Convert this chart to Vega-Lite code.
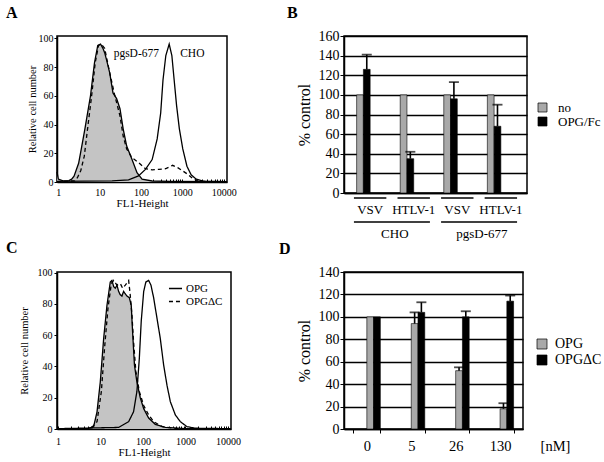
{
  "$schema": "https://vega.github.io/schema/vega-lite/v6.json",
  "background": "white",
  "padding": {"left": 5, "top": 4, "right": 0, "bottom": 0},
  "columns": 2,
  "bounds": "flush",
  "align": "each",
  "spacing": {"row": 79, "column": 113},
  "resolve": {"scale": {"color": "independent", "strokeDash": "independent"}, "legend": {"color": "independent", "strokeDash": "independent"}},
  "datasets": {
    "histA": [
      {"curve": "ctrl", "x": 0.93, "y": 7}, {"curve": "ctrl", "x": 1.0, "y": 2}, {"curve": "ctrl", "x": 1.3, "y": 0.8}, {"curve": "ctrl", "x": 1.8, "y": 1}, {"curve": "ctrl", "x": 2.1, "y": 2}, {"curve": "ctrl", "x": 2.4, "y": 4}, {"curve": "ctrl", "x": 3.1, "y": 13}, {"curve": "ctrl", "x": 3.7, "y": 25}, {"curve": "ctrl", "x": 4.4, "y": 37}, {"curve": "ctrl", "x": 6.0, "y": 60}, {"curve": "ctrl", "x": 7.5, "y": 83}, {"curve": "ctrl", "x": 9.0, "y": 95}, {"curve": "ctrl", "x": 10.5, "y": 96}, {"curve": "ctrl", "x": 12, "y": 93}, {"curve": "ctrl", "x": 13.2, "y": 90}, {"curve": "ctrl", "x": 15, "y": 84}, {"curve": "ctrl", "x": 17.5, "y": 76}, {"curve": "ctrl", "x": 21, "y": 62}, {"curve": "ctrl", "x": 25.7, "y": 58}, {"curve": "ctrl", "x": 31, "y": 51}, {"curve": "ctrl", "x": 37, "y": 37}, {"curve": "ctrl", "x": 45, "y": 25}, {"curve": "ctrl", "x": 60, "y": 16}, {"curve": "ctrl", "x": 80, "y": 6.5}, {"curve": "ctrl", "x": 106, "y": 2}, {"curve": "ctrl", "x": 186, "y": 0.7}, {"curve": "ctrl", "x": 500, "y": 0.4}, {"curve": "ctrl", "x": 12000, "y": 0.3},
      {"curve": "pgsD", "x": 0.93, "y": 0.3}, {"curve": "pgsD", "x": 2.5, "y": 0.8}, {"curve": "pgsD", "x": 2.9, "y": 3}, {"curve": "pgsD", "x": 3.5, "y": 8}, {"curve": "pgsD", "x": 4.25, "y": 18}, {"curve": "pgsD", "x": 5.1, "y": 37}, {"curve": "pgsD", "x": 6.4, "y": 60}, {"curve": "pgsD", "x": 7.8, "y": 83}, {"curve": "pgsD", "x": 9.4, "y": 95}, {"curve": "pgsD", "x": 11, "y": 96}, {"curve": "pgsD", "x": 13.2, "y": 93}, {"curve": "pgsD", "x": 17.5, "y": 76}, {"curve": "pgsD", "x": 23.3, "y": 60}, {"curve": "pgsD", "x": 31, "y": 46}, {"curve": "pgsD", "x": 37, "y": 32}, {"curve": "pgsD", "x": 45, "y": 23}, {"curve": "pgsD", "x": 60, "y": 17}, {"curve": "pgsD", "x": 87, "y": 13.5}, {"curve": "pgsD", "x": 128, "y": 9.3}, {"curve": "pgsD", "x": 186, "y": 8.4}, {"curve": "pgsD", "x": 272, "y": 8.8}, {"curve": "pgsD", "x": 398, "y": 9.3}, {"curve": "pgsD", "x": 580, "y": 11.6}, {"curve": "pgsD", "x": 771, "y": 10}, {"curve": "pgsD", "x": 1023, "y": 7.7}, {"curve": "pgsD", "x": 1360, "y": 5.3}, {"curve": "pgsD", "x": 1800, "y": 2.3}, {"curve": "pgsD", "x": 2400, "y": 0.7}, {"curve": "pgsD", "x": 4000, "y": 0.3},
      {"curve": "CHO", "x": 0.93, "y": 0.5}, {"curve": "CHO", "x": 20, "y": 0.8}, {"curve": "CHO", "x": 50, "y": 1.5}, {"curve": "CHO", "x": 87, "y": 4.2}, {"curve": "CHO", "x": 128, "y": 8.8}, {"curve": "CHO", "x": 186, "y": 15.6}, {"curve": "CHO", "x": 246, "y": 30}, {"curve": "CHO", "x": 299, "y": 48}, {"curve": "CHO", "x": 340, "y": 71}, {"curve": "CHO", "x": 398, "y": 88}, {"curve": "CHO", "x": 480, "y": 96}, {"curve": "CHO", "x": 557, "y": 88}, {"curve": "CHO", "x": 633, "y": 71}, {"curve": "CHO", "x": 726, "y": 53}, {"curve": "CHO", "x": 846, "y": 37}, {"curve": "CHO", "x": 1023, "y": 23}, {"curve": "CHO", "x": 1290, "y": 11}, {"curve": "CHO", "x": 1630, "y": 5}, {"curve": "CHO", "x": 2170, "y": 2}, {"curve": "CHO", "x": 3170, "y": 0.6}, {"curve": "CHO", "x": 12000, "y": 0.3}
    ],
    "histC": [
      {"curve": "ctrl", "x": 0.95, "y": 0.2}, {"curve": "ctrl", "x": 5, "y": 0.3}, {"curve": "ctrl", "x": 6.9, "y": 1.5}, {"curve": "ctrl", "x": 8.3, "y": 11}, {"curve": "ctrl", "x": 9.9, "y": 30}, {"curve": "ctrl", "x": 11.9, "y": 58}, {"curve": "ctrl", "x": 14.2, "y": 79}, {"curve": "ctrl", "x": 17, "y": 94}, {"curve": "ctrl", "x": 18.6, "y": 95}, {"curve": "ctrl", "x": 20.5, "y": 91}, {"curve": "ctrl", "x": 22.3, "y": 90}, {"curve": "ctrl", "x": 24.5, "y": 92}, {"curve": "ctrl", "x": 26.7, "y": 88}, {"curve": "ctrl", "x": 29, "y": 86}, {"curve": "ctrl", "x": 32, "y": 85}, {"curve": "ctrl", "x": 35, "y": 88}, {"curve": "ctrl", "x": 37, "y": 87}, {"curve": "ctrl", "x": 42, "y": 85}, {"curve": "ctrl", "x": 47.7, "y": 84}, {"curve": "ctrl", "x": 53, "y": 79}, {"curve": "ctrl", "x": 57, "y": 62}, {"curve": "ctrl", "x": 63, "y": 41}, {"curve": "ctrl", "x": 72, "y": 30}, {"curve": "ctrl", "x": 86.5, "y": 20}, {"curve": "ctrl", "x": 104, "y": 13}, {"curve": "ctrl", "x": 136, "y": 7}, {"curve": "ctrl", "x": 195, "y": 3}, {"curve": "ctrl", "x": 335, "y": 1}, {"curve": "ctrl", "x": 1000, "y": 0.3}, {"curve": "ctrl", "x": 11500, "y": 0.2},
      {"curve": "OPGΔC", "x": 0.95, "y": 0.2}, {"curve": "OPGΔC", "x": 6, "y": 0.3}, {"curve": "OPGΔC", "x": 8.3, "y": 4.7}, {"curve": "OPGΔC", "x": 10.5, "y": 24}, {"curve": "OPGΔC", "x": 12.5, "y": 52}, {"curve": "OPGΔC", "x": 15, "y": 77}, {"curve": "OPGΔC", "x": 18, "y": 93}, {"curve": "OPGΔC", "x": 20.4, "y": 95}, {"curve": "OPGΔC", "x": 24.4, "y": 92}, {"curve": "OPGΔC", "x": 29.3, "y": 93}, {"curve": "OPGΔC", "x": 33.3, "y": 90}, {"curve": "OPGΔC", "x": 38.4, "y": 92}, {"curve": "OPGΔC", "x": 46, "y": 95}, {"curve": "OPGΔC", "x": 50, "y": 86}, {"curve": "OPGΔC", "x": 55, "y": 73}, {"curve": "OPGΔC", "x": 60, "y": 56}, {"curve": "OPGΔC", "x": 68, "y": 37}, {"curve": "OPGΔC", "x": 82, "y": 24}, {"curve": "OPGΔC", "x": 104, "y": 15}, {"curve": "OPGΔC", "x": 136, "y": 9}, {"curve": "OPGΔC", "x": 178, "y": 4.7}, {"curve": "OPGΔC", "x": 280, "y": 1.5}, {"curve": "OPGΔC", "x": 600, "y": 0.3}, {"curve": "OPGΔC", "x": 11500, "y": 0.2},
      {"curve": "OPG", "x": 0.95, "y": 0.2}, {"curve": "OPG", "x": 26.7, "y": 1}, {"curve": "OPG", "x": 46, "y": 4.7}, {"curve": "OPG", "x": 60, "y": 11}, {"curve": "OPG", "x": 72, "y": 24}, {"curve": "OPG", "x": 82, "y": 45}, {"curve": "OPG", "x": 91, "y": 69}, {"curve": "OPG", "x": 104, "y": 88}, {"curve": "OPG", "x": 117, "y": 94}, {"curve": "OPG", "x": 136, "y": 95}, {"curve": "OPG", "x": 154, "y": 92}, {"curve": "OPG", "x": 178, "y": 84}, {"curve": "OPG", "x": 213, "y": 71}, {"curve": "OPG", "x": 255, "y": 58}, {"curve": "OPG", "x": 306, "y": 41}, {"curve": "OPG", "x": 367, "y": 28}, {"curve": "OPG", "x": 440, "y": 17.5}, {"curve": "OPG", "x": 577, "y": 9}, {"curve": "OPG", "x": 755, "y": 4.7}, {"curve": "OPG", "x": 1085, "y": 1.5}, {"curve": "OPG", "x": 1700, "y": 0.5}, {"curve": "OPG", "x": 11500, "y": 0.2}
    ],
    "barsB": [
      {"cat": "CHO VSV", "series": "no", "value": 100},
      {"cat": "CHO VSV", "series": "OPG/Fc", "value": 126, "hi": 141},
      {"cat": "CHO HTLV-1", "series": "no", "value": 100},
      {"cat": "CHO HTLV-1", "series": "OPG/Fc", "value": 35, "hi": 42},
      {"cat": "pgsD-677 VSV", "series": "no", "value": 100},
      {"cat": "pgsD-677 VSV", "series": "OPG/Fc", "value": 96, "hi": 113},
      {"cat": "pgsD-677 HTLV-1", "series": "no", "value": 100},
      {"cat": "pgsD-677 HTLV-1", "series": "OPG/Fc", "value": 68, "hi": 90}
    ],
    "groupsB": [
      {"grp": "CHO", "first": "CHO VSV", "last": "CHO HTLV-1"},
      {"grp": "pgsD-677", "first": "pgsD-677 VSV", "last": "pgsD-677 HTLV-1"}
    ],
    "barsD": [
      {"conc": "0", "series": "OPG", "value": 100},
      {"conc": "0", "series": "OPGΔC", "value": 100},
      {"conc": "5", "series": "OPG", "value": 94, "hi": 104},
      {"conc": "5", "series": "OPGΔC", "value": 104, "hi": 113},
      {"conc": "26", "series": "OPG", "value": 52, "hi": 55},
      {"conc": "26", "series": "OPGΔC", "value": 100, "hi": 105},
      {"conc": "130", "series": "OPG", "value": 18, "hi": 23},
      {"conc": "130", "series": "OPGΔC", "value": 114, "hi": 119}
    ]
  },
  "concat": [
    {
      "width": 170,
      "height": 146,
      "title": {"text": "A", "anchor": "start", "frame": "group", "dx": -51, "offset": 12, "fontSize": 16},
      "data": {"name": "histA"},
      "layer": [
        {
          "transform": [{"filter": "datum.curve === 'ctrl'"}],
          "mark": {"type": "area", "color": "#c4c4c4"},
          "encoding": {
            "x": {"field": "x", "type": "quantitative", "scale": {"type": "log", "domain": [0.93, 12000], "nice": false},
              "axis": {"title": "FL1-Height", "titleFontSize": 11, "titlePadding": 0, "values": [1,2,3,4,5,6,7,8,9,10,20,30,40,50,60,70,80,90,100,200,300,400,500,600,700,800,900,1000,2000,3000,4000,5000,6000,7000,8000,9000,10000], "tickCount": 100, "format": "d", "labelExpr": "indexof([1,10,100,1000,10000], datum.value) >= 0 ? datum.label : ''", "tickSize": -3, "labelPadding": 8, "labelFontSize": 10, "labelFlush": false, "labelOverlap": false, "domainWidth": 1.5}},
            "y": {"field": "y", "type": "quantitative", "scale": {"domain": [0, 101.6], "nice": false},
              "axis": {"title": "Relative cell number", "titleFontSize": 10.5, "titlePadding": 1, "values": [0,20,40,60,80,100], "tickCount": 100, "tickSize": 3, "labelPadding": 1, "labelFontSize": 10, "labelOverlap": false, "domainWidth": 1.5}}
          }
        },
        {
          "transform": [{"filter": "datum.curve === 'ctrl'"}],
          "mark": {"type": "line", "color": "black", "strokeWidth": 1.3},
          "encoding": {"x": {"field": "x", "type": "quantitative"}, "y": {"field": "y", "type": "quantitative"}}
        },
        {
          "transform": [{"filter": "datum.curve === 'pgsD'"}],
          "mark": {"type": "line", "color": "black", "strokeWidth": 1.3, "strokeDash": [4, 3]},
          "encoding": {"x": {"field": "x", "type": "quantitative"}, "y": {"field": "y", "type": "quantitative"}}
        },
        {
          "transform": [{"filter": "datum.curve === 'CHO'"}],
          "mark": {"type": "line", "color": "black", "strokeWidth": 1.3},
          "encoding": {"x": {"field": "x", "type": "quantitative"}, "y": {"field": "y", "type": "quantitative"}}
        },
        {
          "data": {"values": [{}]},
          "mark": {"type": "text", "fontSize": 11.5, "font": "Liberation Serif", "color": "black"},
          "encoding": {"x": {"datum": 77, "type": "quantitative"}, "y": {"datum": 89, "type": "quantitative"}, "text": {"value": "pgsD-677"}}
        },
        {
          "data": {"values": [{}]},
          "mark": {"type": "text", "fontSize": 11.5, "font": "Liberation Serif", "color": "black"},
          "encoding": {"x": {"datum": 1740, "type": "quantitative"}, "y": {"datum": 89, "type": "quantitative"}, "text": {"value": "CHO"}}
        }
      ]
    },
    {
      "width": 183,
      "height": 157,
      "title": {"text": "B", "anchor": "start", "frame": "group", "dx": -57, "offset": 8, "fontSize": 16},
      "layer": [
        {
          "data": {"name": "barsB"},
          "mark": {"type": "bar", "stroke": "black", "strokeWidth": 0.6},
          "encoding": {
            "x": {"field": "cat", "type": "nominal", "scale": {"domain": ["CHO VSV", "CHO HTLV-1", "pgsD-677 VSV", "pgsD-677 HTLV-1"], "paddingInner": 0.38, "paddingOuter": 0.29},
              "axis": {"title": null, "labelExpr": "split(datum.value, ' ')[1]", "labelAngle": 0, "ticks": false, "labelPadding": 10, "labelFontSize": 13, "domainWidth": 1.5}},
            "xOffset": {"field": "series", "type": "nominal", "scale": {"domain": ["no", "OPG/Fc"], "paddingInner": 0, "paddingOuter": 0}},
            "y": {"field": "value", "type": "quantitative", "scale": {"domain": [0, 160], "nice": false},
              "axis": {"title": "% control", "titleFontSize": 16, "titleFontWeight": "normal", "titlePadding": 6, "values": [0,20,40,60,80,100,120,140,160], "tickCount": 100, "labelOverlap": false, "grid": true, "gridColor": "black", "gridWidth": 1.3, "tickSize": 4, "labelPadding": 1, "labelFontSize": 14, "domainWidth": 1.5}},
            "color": {"field": "series", "type": "nominal", "scale": {"domain": ["no", "OPG/Fc"], "range": ["#a9a9a9", "#000000"]},
              "legend": {"title": null, "orient": "none", "legendX": 192, "legendY": 65, "symbolType": "square", "symbolSize": 81, "symbolStrokeColor": "black", "symbolStrokeWidth": 0.7, "labelFontSize": 13, "rowPadding": -6, "labelOffset": 9, "padding": 0}}
          }
        },
        {
          "data": {"name": "barsB"},
          "transform": [{"filter": "isValid(datum.hi)"}],
          "mark": {"type": "rule", "color": "black", "strokeWidth": 1.6},
          "encoding": {
            "x": {"field": "cat", "type": "nominal"},
            "xOffset": {"field": "series", "type": "nominal"},
            "y": {"field": "value", "type": "quantitative"},
            "y2": {"field": "hi"}
          }
        },
        {
          "data": {"name": "barsB"},
          "transform": [{"filter": "isValid(datum.hi)"}],
          "mark": {"type": "tick", "color": "black", "thickness": 1.8, "size": 10},
          "encoding": {
            "x": {"field": "cat", "type": "nominal"},
            "xOffset": {"field": "series", "type": "nominal"},
            "y": {"field": "hi", "type": "quantitative"}
          }
        },
        {
          "data": {"name": "barsB"},
          "transform": [{"filter": "datum.series === 'no'"}],
          "mark": {"type": "rule", "color": "black", "strokeWidth": 1.5},
          "encoding": {
            "x": {"field": "cat", "type": "nominal", "bandPosition": -0.1},
            "x2": {"field": "cat", "bandPosition": 1.1},
            "y": {"datum": -5, "type": "quantitative"}
          }
        },
        {
          "data": {"name": "groupsB"},
          "mark": {"type": "rule", "color": "black", "strokeWidth": 1.5},
          "encoding": {
            "x": {"field": "first", "type": "nominal", "bandPosition": -0.1},
            "x2": {"field": "last", "bandPosition": 1.1},
            "y": {"datum": -29.6, "type": "quantitative"}
          }
        },
        {
          "data": {"name": "groupsB"},
          "mark": {"type": "text", "fontSize": 13, "font": "Liberation Serif", "color": "black"},
          "encoding": {
            "x": {"field": "last", "type": "nominal", "bandPosition": -0.2},
            "y": {"datum": -42, "type": "quantitative"},
            "text": {"field": "grp"}
          }
        }
      ]
    },
    {
      "width": 174,
      "height": 157,
      "title": {"text": "C", "anchor": "start", "frame": "group", "dx": -51, "offset": 12, "fontSize": 16},
      "data": {"name": "histC"},
      "layer": [
        {
          "transform": [{"filter": "datum.curve === 'ctrl'"}],
          "mark": {"type": "area", "color": "#c4c4c4"},
          "encoding": {
            "x": {"field": "x", "type": "quantitative", "scale": {"type": "log", "domain": [0.95, 11760], "nice": false},
              "axis": {"title": "FL1-Height", "titleFontSize": 11, "titlePadding": 0, "values": [1,2,3,4,5,6,7,8,9,10,20,30,40,50,60,70,80,90,100,200,300,400,500,600,700,800,900,1000,2000,3000,4000,5000,6000,7000,8000,9000,10000], "tickCount": 100, "format": "d", "labelExpr": "indexof([1,10,100,1000,10000], datum.value) >= 0 ? datum.label : ''", "tickSize": -3, "labelPadding": 10, "labelFontSize": 10, "labelFlush": false, "labelOverlap": false, "domainWidth": 1.5}},
            "y": {"field": "y", "type": "quantitative", "scale": {"domain": [0, 100.4], "nice": false},
              "axis": {"title": "Relative cell number", "titleFontSize": 10.5, "titlePadding": 8, "values": [0,20,40,60,80,100], "tickCount": 100, "tickSize": 3, "labelPadding": 2, "labelFontSize": 10, "labelOverlap": false, "domainWidth": 1.5}}
          }
        },
        {
          "transform": [{"filter": "datum.curve === 'ctrl'"}],
          "mark": {"type": "line", "color": "black", "strokeWidth": 1.3},
          "encoding": {"x": {"field": "x", "type": "quantitative"}, "y": {"field": "y", "type": "quantitative"}}
        },
        {
          "transform": [{"filter": "datum.curve !== 'ctrl'"}],
          "mark": {"type": "line", "color": "black", "strokeWidth": 1.3},
          "encoding": {
            "x": {"field": "x", "type": "quantitative"},
            "y": {"field": "y", "type": "quantitative"},
            "strokeDash": {"field": "curve", "type": "nominal", "scale": {"domain": ["OPG", "OPGΔC"], "range": [[1, 0], [4, 3]]},
              "legend": {"title": null, "orient": "none", "legendX": 111, "legendY": 9, "symbolType": "stroke", "symbolSize": 170, "symbolStrokeColor": "black", "symbolStrokeWidth": 1.5, "labelFontSize": 11, "rowPadding": 0, "labelOffset": 3, "padding": 0}}
          }
        }
      ]
    },
    {
      "width": 179,
      "height": 157,
      "title": {"text": "D", "anchor": "start", "frame": "group", "dx": -65, "offset": 8, "fontSize": 16},
      "data": {"name": "barsD"},
      "layer": [
        {
          "mark": {"type": "bar", "stroke": "black", "strokeWidth": 0.6},
          "encoding": {
            "x": {"field": "conc", "type": "nominal", "scale": {"domain": ["0", "5", "26", "130"], "paddingInner": 0.39, "paddingOuter": 0.21},
              "axis": {"title": "[nM]", "titleAngle": 0, "titleX": 211, "titleY": 17, "titleBaseline": "middle", "titleAlign": "center", "titleFontSize": 14.5, "titleFontWeight": "normal", "labelAngle": 0, "labelFontSize": 14.5, "labelPadding": 6, "tickBand": "extent", "tickSize": 4, "domainWidth": 1.5}},
            "xOffset": {"field": "series", "type": "nominal", "scale": {"domain": ["OPG", "OPGΔC"], "paddingInner": 0, "paddingOuter": 0}},
            "y": {"field": "value", "type": "quantitative", "scale": {"domain": [0, 140], "nice": false},
              "axis": {"title": "% control", "titleFontSize": 16, "titleFontWeight": "normal", "titlePadding": 6, "values": [0,20,40,60,80,100,120,140], "tickCount": 100, "labelOverlap": false, "grid": true, "gridColor": "black", "gridWidth": 1.3, "tickSize": 4, "labelPadding": 1, "labelFontSize": 14, "domainWidth": 1.5}},
            "color": {"field": "series", "type": "nominal", "scale": {"domain": ["OPG", "OPGΔC"], "range": ["#a9a9a9", "#000000"]},
              "legend": {"title": null, "orient": "none", "legendX": 191, "legendY": 65, "symbolType": "square", "symbolSize": 100, "symbolStrokeColor": "black", "symbolStrokeWidth": 0.7, "labelFontSize": 14, "rowPadding": 2, "labelOffset": 6, "padding": 0}}
          }
        },
        {
          "transform": [{"filter": "isValid(datum.hi)"}],
          "mark": {"type": "rule", "color": "black", "strokeWidth": 1.6},
          "encoding": {
            "x": {"field": "conc", "type": "nominal"},
            "xOffset": {"field": "series", "type": "nominal"},
            "y": {"field": "value", "type": "quantitative"},
            "y2": {"field": "hi"}
          }
        },
        {
          "transform": [{"filter": "isValid(datum.hi)"}],
          "mark": {"type": "tick", "color": "black", "thickness": 1.8, "size": 10},
          "encoding": {
            "x": {"field": "conc", "type": "nominal"},
            "xOffset": {"field": "series", "type": "nominal"},
            "y": {"field": "hi", "type": "quantitative"}
          }
        }
      ]
    }
  ],
  "config": {
    "font": "Liberation Serif",
    "view": {"stroke": "black", "strokeWidth": 1.5},
    "axis": {"labelFont": "Liberation Serif", "titleFont": "Liberation Serif", "labelColor": "black", "titleColor": "black", "domainColor": "black", "tickColor": "black", "titleFontWeight": "normal", "grid": false},
    "legend": {"labelFont": "Liberation Serif", "labelColor": "black"},
    "title": {"font": "Liberation Serif", "fontWeight": "bold", "color": "black"}
  }
}
